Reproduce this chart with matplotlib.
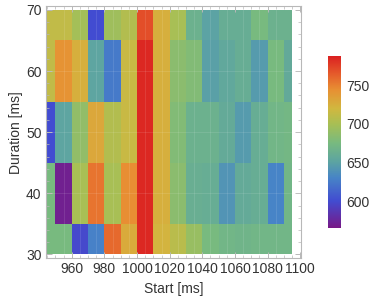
import matplotlib
matplotlib.use("Agg")
import matplotlib.pyplot as plt
import numpy as np
from matplotlib.colors import LinearSegmentedColormap, Normalize
from matplotlib.ticker import MultipleLocator

plt.rcParams['font.family'] = ['Liberation Sans', 'DejaVu Sans']

# data
start = [945, 955, 965, 975, 985, 995, 1005, 1015, 1025, 1035, 1045, 1055, 1065, 1075, 1085, 1095]
duration = [30, 40, 50, 60, 70]
values = np.array([
    [675, 675, 598, 628, 760, 728, 785, 722, 708, 692, 675, 670, 668, 670, 670, 670],  # 30
    [675, 570, 700, 755, 700, 745, 785, 725, 685, 662, 660, 640, 658, 660, 630, 670],  # 40
    [600, 652, 688, 730, 705, 715, 785, 725, 680, 665, 665, 658, 645, 660, 670, 672],  # 50
    [712, 742, 725, 652, 625, 715, 785, 725, 685, 680, 648, 655, 660, 645, 675, 657],  # 60
    [712, 712, 698, 600, 695, 705, 770, 725, 700, 665, 650, 660, 660, 675, 665, 665],  # 70
])
cbar_ticks = [600, 650, 700, 750]

vmin, vmax = 565, 788
stops = [
    (565, (0.47, 0.10, 0.53)),
    (600, (0.26, 0.30, 0.82)),
    (630, (0.28, 0.52, 0.78)),
    (650, (0.36, 0.64, 0.64)),
    (675, (0.47, 0.73, 0.50)),
    (700, (0.66, 0.75, 0.33)),
    (720, (0.82, 0.72, 0.25)),
    (745, (0.91, 0.56, 0.20)),
    (765, (0.90, 0.36, 0.17)),
    (788, (0.86, 0.13, 0.13)),
]
cmap = LinearSegmentedColormap.from_list(
    "rainbow_mma", [((v - vmin) / (vmax - vmin), c) for v, c in stops])
norm = Normalize(vmin, vmax)


def cell_edges(pts):
    pts = np.asarray(pts, dtype=float)
    mids = (pts[:-1] + pts[1:]) / 2
    return np.concatenate([[pts[0]], mids, [pts[-1]]])


fig = plt.figure(figsize=(3.74, 2.98), dpi=100)
ax = fig.add_axes([0.122, 0.134, 0.683, 0.845])

ax.pcolormesh(cell_edges(start), cell_edges(duration), values,
              cmap=cmap, norm=norm, shading='flat')

# faint mesh through the data points
for x in start[1:-1]:
    ax.axvline(x, color='white', alpha=0.12, lw=0.6)
for y in duration[1:-1]:
    ax.axhline(y, color='white', alpha=0.12, lw=0.6)

ax.set_xlim(944, 1100.5)
ax.set_ylim(29.4, 70.6)
ax.xaxis.set_major_locator(MultipleLocator(20))
ax.xaxis.set_minor_locator(MultipleLocator(5))
ax.yaxis.set_major_locator(MultipleLocator(10))
ax.yaxis.set_minor_locator(MultipleLocator(2))
ax.set_xticks(range(960, 1101, 20))

for s in ax.spines.values():
    s.set_color('#b8b8b8')
    s.set_linewidth(0.8)
ax.tick_params(which='both', direction='in', color='#b8b8b8', top=True, right=True,
               labelsize=10, labelcolor='#333333', pad=3)
ax.tick_params(which='major', length=4, width=0.7)
ax.tick_params(which='minor', length=2, width=0.5)

ax.set_xlabel("Start [ms]", fontsize=10, color='#333333', labelpad=4)
ax.set_ylabel("Duration [ms]", fontsize=10, color='#333333', labelpad=2)

# colour bar
cax = fig.add_axes([328 / 374, 1 - 228 / 298, 13 / 374, 172 / 298])
grad = np.linspace(vmin, vmax, 256).reshape(-1, 1)
cax.imshow(grad, aspect='auto', origin='lower', cmap=cmap, norm=norm,
           extent=[0, 1, vmin, vmax])
cax.set_xticks([])
cax.yaxis.tick_right()
cax.set_yticks(cbar_ticks)
cax.tick_params(axis='y', length=0, labelsize=10, labelcolor='#333333', pad=4)
for s in cax.spines.values():
    s.set_visible(False)

fig.savefig("out.png", dpi=100)
